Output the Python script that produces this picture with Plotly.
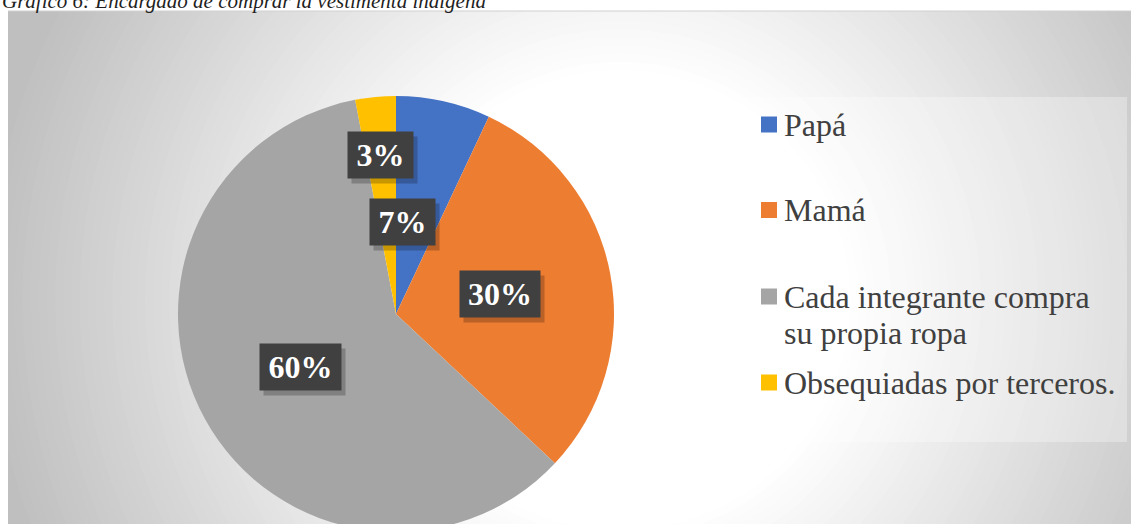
import math
import plotly.graph_objects as go

# figure is taller than the window: the bottom of the pie is cut off like in the source
W, H = 1131, 560

categories = ["Papá", "Mamá", "Cada integrante compra su propia ropa", "Obsequiadas por terceros."]
legend_text = ["Papá", "Mamá", "Cada integrante compra<br>su propia ropa", "Obsequiadas por terceros."]
values = [7, 30, 60, 3]
colors = ["#4472C4", "#ED7D31", "#A5A5A5", "#FFC000"]
title_text = "Gráfico 6: Encargado de comprar la vestimenta indígena"

# pie geometry in pixels
CX, CY, R = 396, 314, 218
label_dist = [94, 106, 109, 160]   # how far from the centre each % box sits
label_nudge = [-14, 0, 0, 0]       # Excel's best-fit shift for the small slice
box_w = [65, 80, 81, 65]
box_h = 46


def px(x):
    return x / W


def py(y):
    return 1 - y / H


fig = go.Figure()

fig.add_trace(go.Pie(
    labels=categories,
    values=values,
    sort=False,
    direction="clockwise",
    rotation=0,
    marker=dict(colors=colors, line=dict(width=0)),
    textinfo="none",
    showlegend=False,
    domain=dict(x=[px(CX - R), px(CX + R)], y=[py(CY + R), py(CY - R)]),
))

shapes = []

# radial grey->white background (concentric circles)
gcx, gcy, r0, r1 = 620, 300, 230, 640
n = 60
for i in range(n + 1):
    r = r1 + 80 - i * (r1 + 80 - r0) / n
    t = min(1.0, max(0.0, (r - r0) / (r1 - r0)))
    g = int(round(255 - t * (255 - 191)))
    shapes.append(dict(type="circle", xref="paper", yref="paper", layer="below",
                       x0=px(gcx - r), x1=px(gcx + r), y0=py(gcy + r), y1=py(gcy - r),
                       fillcolor=f"rgb({g},{g},{g})", line=dict(width=0)))

# white page strips around the chart area + thin border
shapes.append(dict(type="rect", xref="paper", yref="paper", layer="below",
                   x0=0, x1=1, y0=py(11), y1=1.01, fillcolor="white", line=dict(width=0)))
shapes.append(dict(type="rect", xref="paper", yref="paper", layer="below",
                   x0=-0.01, x1=px(8), y0=-0.01, y1=1.01, fillcolor="white", line=dict(width=0)))
shapes.append(dict(type="line", xref="paper", yref="paper", layer="below",
                   x0=px(8), x1=1, y0=py(11), y1=py(11), line=dict(color="#d0d0d0", width=1)))

# legend box
shapes.append(dict(type="rect", xref="paper", yref="paper", layer="below",
                   x0=px(747), x1=px(1127), y0=py(442), y1=py(97),
                   fillcolor="rgba(255,255,255,0.3)", line=dict(width=0)))

annotations = []

# legend entries (each text line placed separately to keep Excel's tight line spacing)
row_y = [124.5, 210, 296.5, 382.5]
line_h = 36
for name, col, ry in zip(legend_text, colors, row_y):
    shapes.append(dict(type="rect", xref="paper", yref="paper", layer="below",
                       x0=px(761), x1=px(777), y0=py(ry + 8), y1=py(ry - 8),
                       fillcolor=col, line=dict(width=0)))
    for k, part in enumerate(name.split("<br>")):
        annotations.append(dict(text=part, xref="paper", yref="paper",
                                x=px(782), y=py(ry + k * line_h),
                                xanchor="left", yanchor="middle", align="left", showarrow=False,
                                font=dict(family="Liberation Serif", size=32, color="#404040")))

# percentage boxes at the slice mid-angles
total = sum(values)
cum = 0
for v, d, nudge, bw in zip(values, label_dist, label_nudge, box_w):
    mid = (cum + v / 2) / total * 2 * math.pi
    cum += v
    lx = CX + d * math.sin(mid) + nudge
    ly = CY - d * math.cos(mid)
    # soft shadow
    annotations.append(dict(text=" ", xref="paper", yref="paper", x=px(lx + 4), y=py(ly + 5),
                            xanchor="center", yanchor="middle", showarrow=False,
                            width=bw, height=box_h, borderpad=0,
                            bgcolor="rgba(0,0,0,0.22)"))
    annotations.append(dict(text=f"<b>{round(v / total * 100)}%</b>", xref="paper", yref="paper",
                            x=px(lx), y=py(ly), xanchor="center", yanchor="middle",
                            showarrow=False, width=bw, height=box_h, borderpad=0,
                            bgcolor="#404040",
                            font=dict(family="Liberation Serif", size=32, color="white")))

# caption above the chart (partly cut by the page top)
annotations.append(dict(text=f"<i>{title_text}</i>", xref="paper", yref="paper",
                        x=0, y=py(15), xanchor="left", yanchor="bottom", showarrow=False,
                        font=dict(family="Liberation Serif", size=21, color="#1f1f1f")))

fig.update_layout(
    width=W, height=H,
    margin=dict(l=0, r=0, t=0, b=0),
    paper_bgcolor="white",
    plot_bgcolor="white",
    shapes=shapes,
    annotations=annotations,
)

fig.write_html("out.html", config={"displayModeBar": False},
               post_script="document.body.style.margin='0px'; document.body.style.overflow='hidden';")
